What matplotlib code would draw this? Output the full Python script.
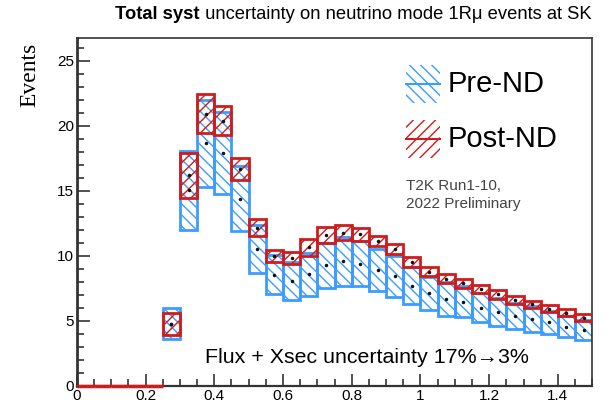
import numpy as np
import matplotlib
matplotlib.use('Agg')
import matplotlib.pyplot as plt
from matplotlib.patches import Rectangle
from matplotlib.ticker import MultipleLocator, FixedLocator

plt.rcParams['font.family'] = ['Liberation Sans', 'DejaVu Sans']
plt.rcParams['hatch.linewidth'] = 1.0

# lower bin edges (width 0.05) in reconstructed energy
bin_lo = [0.00, 0.05, 0.10, 0.15, 0.20,
          0.25, 0.30, 0.35, 0.40, 0.45, 0.50, 0.55, 0.60, 0.65, 0.70,
          0.75, 0.80, 0.85, 0.90, 0.95, 1.00, 1.05, 1.10, 1.15, 1.20,
          1.25, 1.30, 1.35, 1.40, 1.45]
bin_w = 0.05

# pre-ND fit prediction and 1 sigma error
pre_mean = [0, 0, 0, 0, 0,
            4.78, 15.05, 18.65, 17.90, 14.40, 10.55, 8.55, 8.08, 8.59, 9.28,
            9.59, 9.41, 8.90, 8.44, 7.72, 7.11, 6.70, 6.47, 6.03, 5.70,
            5.37, 5.14, 4.88, 4.55, 4.29]
pre_err = [0, 0, 0, 0, 0,
           1.18, 3.05, 3.35, 3.15, 2.50, 1.85, 1.50, 1.45, 1.66, 1.74,
           1.90, 1.74, 1.60, 1.57, 1.43, 1.28, 1.33, 1.20, 1.10, 1.10,
           1.02, 0.98, 0.92, 0.82, 0.76]

# post-ND fit prediction and 1 sigma error
post_mean = [0, 0, 0, 0, 0,
             4.78, 16.20, 20.95, 20.40, 16.70, 12.15, 10.00, 9.85, 10.65, 11.60,
             11.80, 11.65, 11.13, 10.55, 9.53, 8.80, 8.26, 7.88, 7.48, 7.04,
             6.62, 6.28, 5.95, 5.63, 5.25]
post_err = [0, 0, 0, 0, 0,
            0.83, 1.73, 1.48, 1.10, 0.83, 0.65, 0.45, 0.45, 0.65, 0.60,
            0.55, 0.50, 0.40, 0.38, 0.38, 0.35, 0.33, 0.31, 0.31, 0.32,
            0.28, 0.26, 0.26, 0.26, 0.25]

blue = '#3d9cff'
red = '#d01c1c'

x = np.array(bin_lo)
pm, pe = np.array(pre_mean), np.array(pre_err)
qm, qe = np.array(post_mean), np.array(post_err)

fig = plt.figure(figsize=(6.15, 4.05), dpi=100)
ax = fig.add_axes([0.125, 0.047, 0.838, 0.859])

# error boxes: blue first, red on top
ax.bar(x, 2 * pe, bottom=pm - pe, width=bin_w, align='edge', fill=False,
       edgecolor=blue, hatch='\\\\\\', linewidth=2.0, zorder=2)
ax.bar(x, 2 * qe, bottom=qm - qe, width=bin_w, align='edge', fill=False,
       edgecolor=red, hatch='///', linewidth=2.0, zorder=3)

# empty bins show up as a flat line on the axis
empty = qm == 0
ax.hlines(qm[empty], x[empty], x[empty] + bin_w, color=red, lw=2.5,
          clip_on=False, zorder=5)

# central values
sel = pm > 0
ax.plot(x[sel] + bin_w / 2, pm[sel], 'o', color='#111111', ms=1.5, zorder=4)
ax.plot(x[sel] + bin_w / 2, qm[sel], 'o', color='#111111', ms=1.5, zorder=4)

ax.set_xlim(0, 1.5)
ax.set_ylim(0, 26.75)

ax.xaxis.set_major_locator(FixedLocator([0, 0.2, 0.4, 0.6, 0.8, 1.0, 1.2, 1.4]))
ax.xaxis.set_minor_locator(MultipleLocator(0.05))
ax.set_xticklabels(['0', '0.2', '0.4', '0.6', '0.8', '1', '1.2', '1.4'])
ax.yaxis.set_major_locator(MultipleLocator(5))
ax.yaxis.set_minor_locator(MultipleLocator(1))
ax.tick_params(which='both', direction='in', top=False, right=False,
               labelsize=11, color='#333333', width=1.2, pad=2)
ax.tick_params(which='major', length=9)
ax.tick_params(which='minor', length=5)
for s in ax.spines.values():
    s.set_color('#333333')
    s.set_linewidth(1.2)
ax.spines['left'].set_linewidth(2.0)
ax.spines['bottom'].set_linewidth(1.6)

ax.text(-0.092, 0.894, 'Events', transform=ax.transAxes, rotation=90,
        family='Liberation Serif', fontsize=17, ha='center', va='center')

# legend drawn by hand, ROOT style (fill box with line through middle)
for y0, col, h, lab in [(0.813, blue, '\\\\\\', 'Pre-ND'),
                        (0.655, red, '///', 'Post-ND')]:
    ax.add_patch(Rectangle((0.639, y0), 0.066, 0.109, transform=ax.transAxes,
                           fill=False, edgecolor=col, linewidth=0, hatch=h,
                           zorder=5))
    ax.plot([0.639, 0.705], [y0 + 0.0545, y0 + 0.0545], color=col, lw=1.5,
            transform=ax.transAxes, zorder=5)
    ax.text(0.72, y0 + 0.0545, lab, transform=ax.transAxes, fontsize=21,
            va='center', ha='left')

ax.text(0.639, 0.575, 'T2K Run1-10,', transform=ax.transAxes, fontsize=11,
        color='#444444', va='center')
ax.text(0.639, 0.523, '2022 Preliminary', transform=ax.transAxes, fontsize=11,
        color='#444444', va='center')

ax.text(0.563, 0.083, 'Flux + Xsec uncertainty 17%\u21923%', transform=ax.transAxes,
        fontsize=15.4, ha='center', va='center')

t1 = fig.text(0.187, 0.965, 'Total syst', fontsize=13.2, weight='bold',
              va='center', ha='left')
ax.annotate(' uncertainty on neutrino mode 1R\u03bc events at SK',
            xy=(1, 0), xycoords=t1, va='bottom', ha='left', fontsize=13.2,
            annotation_clip=False)

fig.savefig('out.png', dpi=100)
